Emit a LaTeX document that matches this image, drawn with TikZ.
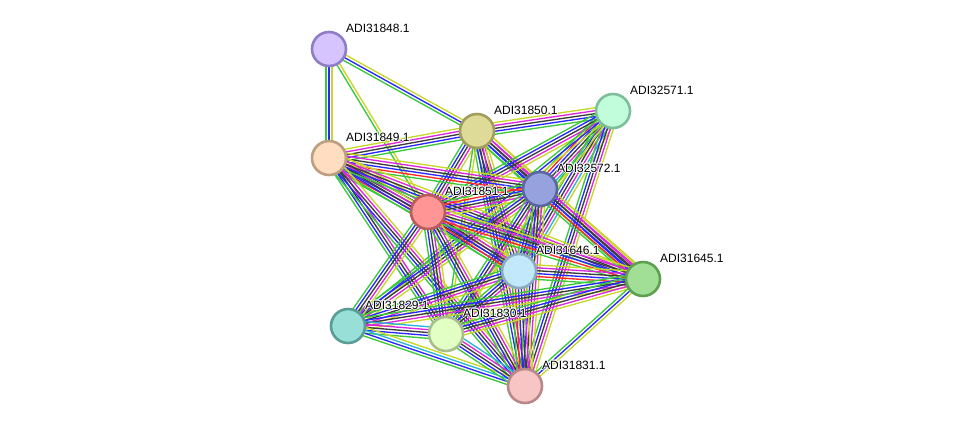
\documentclass[tikz,border=0pt]{standalone}
\usepackage{fontspec}
\setmainfont{Liberation Sans}
\usetikzlibrary{calc}
\pgfdeclarelayer{background}
\pgfsetlayers{background,main}
\definecolor{sg}{RGB}{60,200,60}
\definecolor{sr}{RGB}{255,40,40}
\definecolor{sb}{RGB}{40,40,255}
\definecolor{sk}{RGB}{60,60,60}
\definecolor{sm}{RGB}{220,40,220}
\definecolor{sc}{RGB}{40,180,220}
\definecolor{sy}{RGB}{200,215,40}
\definecolor{fA}{RGB}{213,196,255}\definecolor{bA}{RGB}{143,125,198}
\definecolor{fB}{RGB}{222,218,152}\definecolor{bB}{RGB}{160,157,94}
\definecolor{fC}{RGB}{193,252,219}\definecolor{bC}{RGB}{125,191,155}
\definecolor{fD}{RGB}{255,221,192}\definecolor{bD}{RGB}{188,158,128}
\definecolor{fE}{RGB}{149,162,221}\definecolor{bE}{RGB}{90,102,160}
\definecolor{fF}{RGB}{255,149,149}\definecolor{bF}{RGB}{184,92,92}
\definecolor{fG}{RGB}{194,232,251}\definecolor{bG}{RGB}{138,170,192}
\definecolor{fH}{RGB}{160,223,149}\definecolor{bH}{RGB}{95,160,80}
\definecolor{fI}{RGB}{152,223,216}\definecolor{bI}{RGB}{90,156,150}
\definecolor{fJ}{RGB}{226,255,196}\definecolor{bJ}{RGB}{168,190,141}
\definecolor{fK}{RGB}{248,197,197}\definecolor{bK}{RGB}{184,136,136}
\tikzset{
  prot/.style={circle, minimum size=34pt, inner sep=0pt, line width=2.6pt, fill=f#1, draw=b#1},
  lbl/.style={anchor=west, inner sep=0pt, font=\fontsize{12}{14}\selectfont, text=black},
  evline/.style={line width=1.35pt}
}
\newcommand{\bundle}[3]{%
  \foreach \col [count=\i] in {#3} {\xdef\nlines{\i}}%
  \foreach \col [count=\i] in {#3} {%
    \pgfmathsetmacro\off{(\i-(\nlines+1)/2)*2.9}%
    \draw[evline, draw=\col] ($(#1.center)!\off pt!90:(#2.center)$) -- ($(#2.center)!\off pt!-90:(#1.center)$);%
  }%
}
\newcommand{\protlabel}[3]{%
  \foreach \dx/\dy in {0.9/0,-0.9/0,0/0.9,0/-0.9,0.65/0.65,-0.65/0.65,0.65/-0.65,-0.65/-0.65}
    \node[lbl, text=white] at ($(#2)+(17+\dx,-21+\dy)$) {#3};
  \node[lbl] (#1) at ($(#2)+(17,-21)$) {#3};
}
\begin{document}
\begin{tikzpicture}[x=1pt, y=-1pt]
\useasboundingbox (0,0) rectangle (976,432);
\node[prot=A] (A) at (329,49) {};
\node[prot=B] (B) at (477,131) {};
\node[prot=C] (C) at (613,111) {};
\node[prot=D] (D) at (329,158) {};
\node[prot=E] (E) at (540,189) {};
\node[prot=F] (F) at (428,212) {};
\node[prot=G] (G) at (519,271) {};
\node[prot=H] (H) at (643,279) {};
\node[prot=I] (I) at (348,326) {};
\node[prot=J] (J) at (446,334) {};
\node[prot=K] (K) at (525,386) {};
\begin{pgfonlayer}{background}
\bundle{A}{D}{sg,sb,sy}
\bundle{A}{B}{sg,sb,sy}
\bundle{A}{F}{sg,sy}
\bundle{B}{C}{sg,sb,sk,sm,sy}
\bundle{D}{B}{sg,sb,sk,sm,sy}
\bundle{B}{E}{sg,sb,sk,sm,sy}
\bundle{B}{F}{sg,sb,sk,sm,sy}
\bundle{B}{G}{sg,sb,sk,sm,sy}
\bundle{B}{H}{sg,sb,sk,sm,sy}
\bundle{B}{K}{sg,sb,sk,sm,sy}
\bundle{B}{J}{sg,sy}
\bundle{C}{E}{sg,sr,sb,sk,sm,sc,sy}
\bundle{C}{F}{sg,sb,sk,sm,sy}
\bundle{C}{G}{sg,sb,sk,sm,sc,sy}
\bundle{C}{K}{sg,sb,sk,sm,sy}
\bundle{C}{J}{sg,sy}
\bundle{C}{I}{sg,sb,sy}
\bundle{D}{E}{sg,sr,sb,sk,sm,sy}
\bundle{D}{F}{sg,sr,sb,sk,sk,sm,sy}
\bundle{D}{G}{sg,sb,sk,sm,sy}
\bundle{D}{H}{sg,sb,sk,sm,sy}
\bundle{D}{J}{sg,sb,sk,sm}
\bundle{D}{K}{sg,sb,sk,sm,sy}
\bundle{E}{F}{sg,sr,sb,sk,sm,sy}
\bundle{E}{G}{sg,sb,sk,sm,sy}
\bundle{E}{H}{sg,sr,sb,sk,sm,sy}
\bundle{E}{I}{sg,sb,sk,sm,sy}
\bundle{E}{J}{sg,sb,sk,sm,sy}
\bundle{E}{K}{sg,sb,sk,sm,sy}
\bundle{F}{G}{sg,sr,sb,sk,sm,sy}
\bundle{F}{H}{sg,sr,sb,sk,sm,sy}
\bundle{F}{I}{sg,sb,sk,sm,sy}
\bundle{F}{J}{sg,sb,sk,sm,sy}
\bundle{F}{K}{sg,sb,sk,sm,sy}
\bundle{G}{H}{sg,sr,sb,sk,sm,sy}
\bundle{G}{I}{sg,sb,sk,sm,sy}
\bundle{G}{J}{sg,sb,sk,sm,sy}
\bundle{G}{K}{sg,sr,sb,sk,sm,sy}
\bundle{H}{I}{sg,sb,sk,sm,sy}
\bundle{H}{J}{sg,sb,sk,sm,sy}
\bundle{H}{K}{sg,sb,sy}
\bundle{I}{J}{sg,sb,sk,sm,sc}
\bundle{I}{K}{sg,sb,sc,sy}
\bundle{J}{K}{sg,sb,sk,sm,sc}
\end{pgfonlayer}
\protlabel{lA}{A}{ADI31848.1}
\protlabel{lB}{B}{ADI31850.1}
\protlabel{lC}{C}{ADI32571.1}
\protlabel{lD}{D}{ADI31849.1}
\protlabel{lE}{E}{ADI32572.1}
\protlabel{lF}{F}{ADI31851.1}
\protlabel{lG}{G}{ADI31646.1}
\protlabel{lH}{H}{ADI31645.1}
\protlabel{lI}{I}{ADI31829.1}
\protlabel{lJ}{J}{ADI31830.1}
\protlabel{lK}{K}{ADI31831.1}
\end{tikzpicture}
\end{document}
